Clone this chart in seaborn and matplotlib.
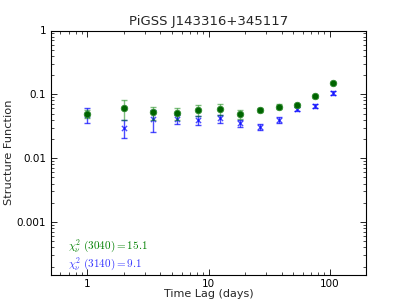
import numpy as np
import matplotlib
matplotlib.use("Agg")
import matplotlib.pyplot as plt
import seaborn as sns

title = "PiGSS J143316+345117"
lags = [1.0, 2.0, 3.5, 5.5, 8.2, 12.5, 18.0, 26.5, 38.0, 54.0, 75.0, 106.0]
sf_3040 = [0.049, 0.061, 0.052, 0.051, 0.057, 0.059, 0.049, 0.057, 0.064, 0.067, 0.093, 0.153]
err_3040 = [0.007, 0.021, 0.012, 0.011, 0.011, 0.011, 0.008, 0.005, 0.006, 0.004, 0.004, 0.005]
sf_3140 = [0.048, 0.030, 0.041, 0.041, 0.040, 0.042, 0.035, 0.031, 0.040, 0.059, 0.065, 0.104]
err_3140 = [0.012, 0.009, 0.015, 0.007, 0.0065, 0.006, 0.0045, 0.0037, 0.004, 0.005, 0.005, 0.008]
chi_3040 = "15.1"
chi_3140 = "9.1"

sns.set_theme(style="ticks")
plt.rcParams['font.family'] = ['DejaVu Sans']
plt.rcParams['mathtext.fontset'] = 'cm'

fig = plt.figure(figsize=(4.07, 3.05), dpi=100)
ax = fig.add_axes([0.125, 0.1, 0.775, 0.8])

ax.errorbar(lags, sf_3140, yerr=err_3140, fmt='none', ecolor='blue', alpha=0.7,
            capsize=2.5, elinewidth=1.0, capthick=1.0, zorder=2)
sns.scatterplot(x=lags, y=sf_3140, ax=ax, marker='x', color='blue', s=14,
                linewidth=1.0, alpha=0.7, zorder=3)
ax.errorbar(lags, sf_3040, yerr=err_3040, fmt='none', ecolor='green', alpha=0.5,
            capsize=2.5, elinewidth=1.0, capthick=1.0, zorder=4)
sns.scatterplot(x=lags, y=sf_3040, ax=ax, marker='o', color='#006400', s=22,
                edgecolor='#2e8b2e', linewidth=0.6, zorder=5)

ax.set_xscale('log')
ax.set_yscale('log')
ax.set_xlim(0.5, 200)
ax.set_ylim(1.5e-4, 1)
ax.set_yticks([0.001, 0.01, 0.1, 1])
ax.set_yticklabels(['0.001', '0.01', '0.1', '1'])
ax.set_xticks([1, 10, 100])
ax.set_xticklabels(['1', '10', '100'])

ax.tick_params(which='both', direction='in', top=True, right=True, labelsize=7.5, colors='black')
ax.tick_params(which='major', length=4, width=0.6)
ax.tick_params(which='minor', length=2, width=0.5)
for s in ax.spines.values():
    s.set_linewidth(0.8)
    s.set_color('black')

ax.set_title(title, fontsize=9.5, pad=4)
ax.set_xlabel('Time Lag (days)', fontsize=8, labelpad=0)
ax.set_ylabel('Structure Function', fontsize=8.2, labelpad=2)

ax.text(0.055, 0.12, r'$\chi_\nu^2\ (3040)=$' + r'$' + chi_3040 + r'$', transform=ax.transAxes,
        color='green', fontsize=8, va='center')
ax.text(0.055, 0.045, r'$\chi_\nu^2\ (3140)=$' + r'$' + chi_3140 + r'$', transform=ax.transAxes,
        color='blue', fontsize=8, va='center', alpha=0.8)

fig.savefig('out.png', dpi=100)
